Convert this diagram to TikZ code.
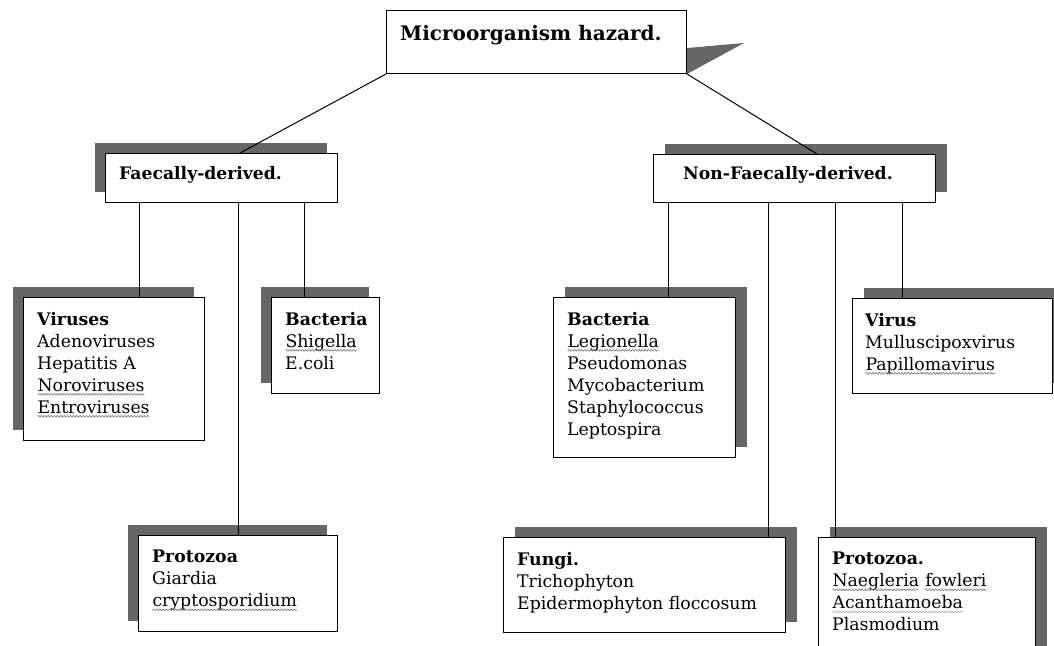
\documentclass[tikz,border=0pt]{standalone}
\usepackage{fontspec}
\setmainfont{DejaVu Serif}
\usetikzlibrary{shadows,decorations.pathmorphing}
\definecolor{shc}{RGB}{102,102,102}
\definecolor{sqc}{RGB}{120,120,120}
\definecolor{sqlight}{RGB}{175,175,175}
\newcommand\squig[2][sqc]{\tikz[baseline=(w.base)]{\node[inner sep=0pt,outer sep=0pt,anchor=base](w){#2};\draw[#1,line width=0.6pt,decorate,decoration={snake,amplitude=0.9pt,segment length=3.2pt}]([yshift=-3pt]w.base west)--([yshift=-3pt]w.base east);}}
\begin{document}
\begin{tikzpicture}[x=1pt,y=-1pt,
  box/.style={draw,line width=1pt,fill=white,inner sep=0pt,anchor=north west},
  shL/.style={drop shadow={shadow xshift=-11pt,shadow yshift=11pt,fill=shc,opacity=1}},
  shR/.style={drop shadow={shadow xshift=11pt,shadow yshift=11pt,fill=shc,opacity=1}},
  txt/.style={anchor=north west,inner sep=0pt,align=left,font=\fontsize{17.3}{22}\selectfont},
  head/.style={anchor=north west,inner sep=0pt,font=\bfseries\fontsize{17.2}{20}\selectfont},
  conn/.style={line width=1pt}]
\useasboundingbox (0,0) rectangle (1054,645);
\fill[white] (0,0) rectangle (1054,645);

% top
\node[box,minimum width=300pt,minimum height=63pt] (top) at (386,10) {};
\fill[shc] ([yshift=26pt]top.south east) -- ([shift={(57,-31)}]top.south east) -- (top.south east) -- cycle;
\node[anchor=north west,inner sep=0pt,font=\bfseries\fontsize{20}{22}\selectfont] (toptxt) at (400,25) {Microorganism hazard.};

% level 2
\node[box,shL,minimum width=232pt,minimum height=49pt] (fae) at (105,153) {};
\node[head] (faetxt) at (119,166) {Faecally-derived.};
\node[box,shR,minimum width=282pt,minimum height=48pt] (non) at (653,154) {};
\node[head] (nontxt) at (683,166) {Non-Faecally-derived.};

% level 3 left
\node[box,shL,minimum width=181pt,minimum height=143pt] (vir) at (23,297) {};
\node[txt] (virtxt) at (37,312) {\textbf{Viruses}\\Adenoviruses\\Hepatitis A\\\squig{Noroviruses}\\\squig{Entroviruses}};
\node[box,shL,minimum width=108pt,minimum height=96pt] (bacF) at (271,297) {};
\node[txt] (bacFtxt) at (285,312) {\textbf{Bacteria}\\\squig{Shigella}\\E.coli};
\node[box,shL,minimum width=199pt,minimum height=96pt] (proF) at (138,535) {};
\node[txt] (proFtxt) at (152,550) {\textbf{Protozoa}\\Giardia\\\squig{cryptosporidium}};

% level 3 right
\node[box,shR,minimum width=182pt,minimum height=160pt] (bacN) at (553,297) {};
\node[txt] (bacNtxt) at (567,312) {\textbf{Bacteria}\\\squig{Legionella}\\Pseudomonas\\Mycobacterium\\Staphylococcus\\Leptospira};
\node[box,shR,minimum width=200pt,minimum height=95pt] (virN) at (852,298) {};
\node[txt] (virNtxt) at (865,313) {\textbf{Virus}\\Mulluscipoxvirus\\\squig{Papillomavirus}};
\node[box,shR,minimum width=282pt,minimum height=95pt] (fun) at (503,537) {};
\node[txt] (funtxt) at (517,552) {\textbf{Fungi.}\\Trichophyton\\Epidermophyton floccosum};
\node[box,shR,minimum width=217pt,minimum height=130pt] (proN) at (818,537) {};
\node[txt] (proNtxt) at (832,552) {\textbf{Protozoa.}\\\squig{Naegleria} \squig{fowleri}\\\squig[sqlight]{Acanthamoeba}\\Plasmodium};

% connectors
\draw[conn] (top.south west) -- ([xshift=135pt]fae.north west);
\draw[conn] (top.south east) -- ([xshift=164pt]non.north west);
\draw[conn] ([xshift=116pt]vir.north west |- fae.south) -- ([xshift=116pt]vir.north west);
\draw[conn] ([xshift=100pt]proF.north west |- fae.south) -- ([xshift=100pt]proF.north west);
\draw[conn] ([xshift=33pt]bacF.north west |- fae.south) -- ([xshift=33pt]bacF.north west);
\draw[conn] ([xshift=115pt]bacN.north west |- non.south) -- ([xshift=115pt]bacN.north west);
\draw[conn] ([xshift=265pt]fun.north west |- non.south) -- ([xshift=265pt]fun.north west);
\draw[conn] ([xshift=17pt]proN.north west |- non.south) -- ([xshift=17pt]proN.north west);
\draw[conn] ([xshift=50pt]virN.north west |- non.south) -- ([xshift=50pt]virN.north west);
\end{tikzpicture}
\end{document}
